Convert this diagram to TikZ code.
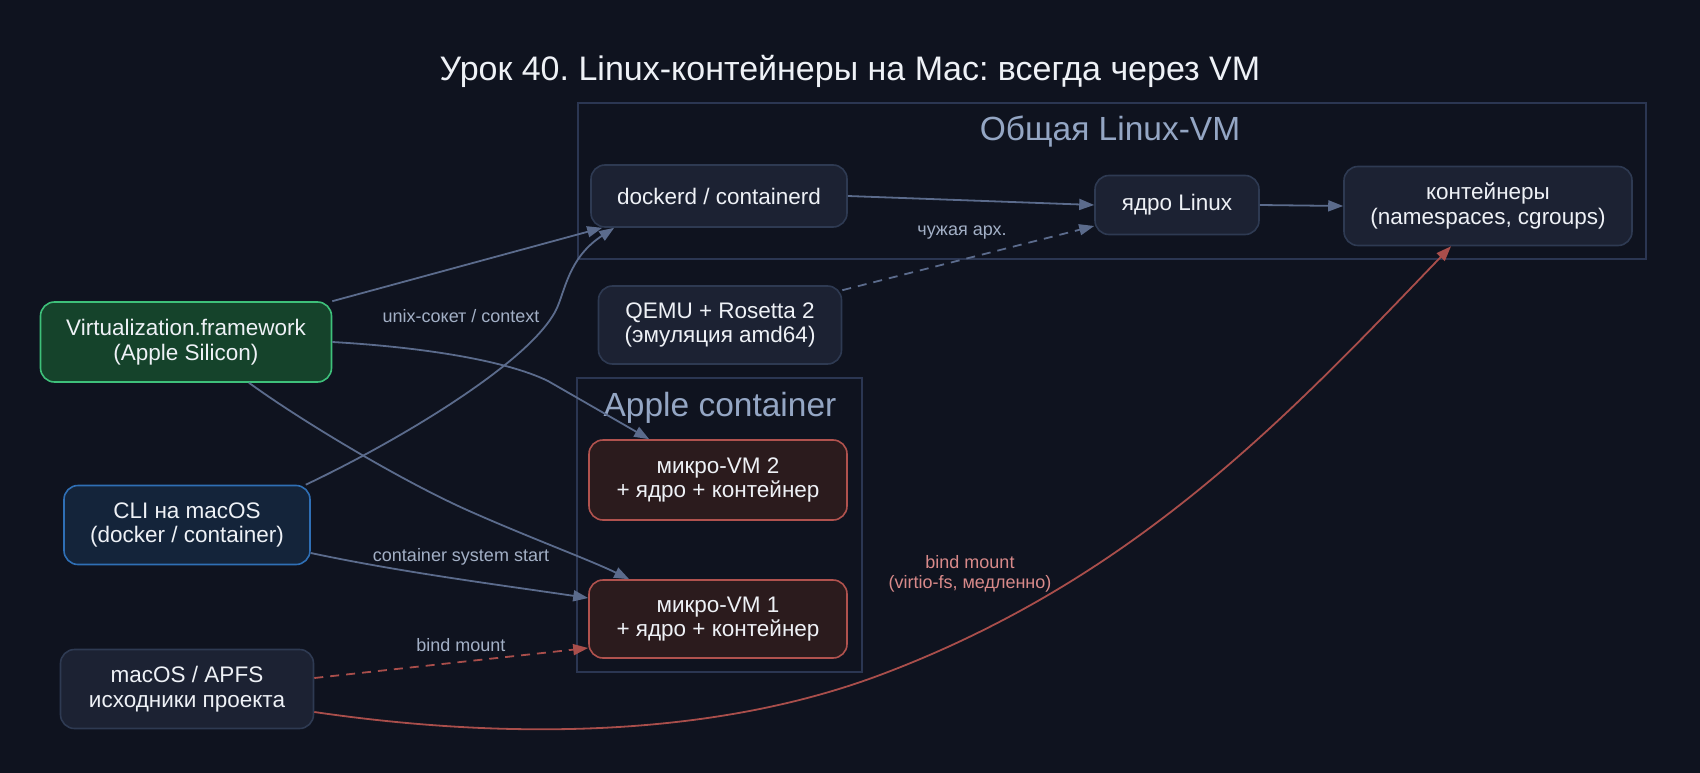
\documentclass[tikz,border=0pt]{standalone}
\usepackage{fontspec}
\setmainfont{Liberation Sans}
\usetikzlibrary{arrows.meta,calc}
\frenchspacing
\definecolor{bg}{HTML}{0F131F}
\definecolor{nfill}{HTML}{1C2233}
\definecolor{nborder}{HTML}{2E3A52}
\definecolor{gfill}{HTML}{15432B}
\definecolor{gborder}{HTML}{3EC07A}
\definecolor{bfill}{HTML}{14243A}
\definecolor{bborder}{HTML}{2F6FB5}
\definecolor{rfill}{HTML}{2B1B1D}
\definecolor{rborder}{HTML}{B0524E}
\definecolor{edgec}{HTML}{5B6B8C}
\definecolor{rede}{HTML}{A94E4B}
\definecolor{txt}{HTML}{EEF1F6}
\definecolor{elab}{HTML}{A3B0C6}
\definecolor{rlab}{HTML}{D98A8A}
\definecolor{cborder}{HTML}{2B3652}
\definecolor{clab}{HTML}{94A6C4}
\tikzset{
  box/.style={draw=nborder, fill=nfill, line width=1.6pt, rounded corners=14pt,
    text=txt, font=\fontsize{22.5}{24.5}\selectfont, align=center, inner sep=0pt},
  gbox/.style={box, draw=gborder, fill=gfill},
  bbox/.style={box, draw=bborder, fill=bfill},
  rbox/.style={box, draw=rborder, fill=rfill},
  cluster/.style={draw=cborder, line width=1.4pt},
  clabel/.style={text=clab, font=\fontsize{33.5}{36}\selectfont},
  conn/.style={draw=edgec, line width=1.8pt, -{Triangle[length=15pt,width=11pt]}},
  rconn/.style={conn, draw=rede},
  elabel/.style={text=elab, font=\fontsize{18}{20}\selectfont, align=center},
  rlabel/.style={elabel, text=rlab},
}
\begin{document}
\begin{tikzpicture}[x=1pt,y=-1pt]
\fill[bg] (0,0) rectangle (1700,773);
\useasboundingbox (0,0) rectangle (1700,773);
\node[text=txt, font=\fontsize{34}{38}\selectfont] (title) at (850,71) {Урок 40. Linux-контейнеры на Mac: всегда через VM};
% clusters
\draw[cluster] (578,103) rectangle (1646,259);
\node[clabel] (lvm) at (1110,132) {Общая Linux-VM};
\draw[cluster] (577,378) rectangle (862,672);
\node[clabel] (apc) at (720,408) {Apple container};
% nodes
\node[box, minimum width=256pt, minimum height=62pt] (dockerd) at (719,196) {dockerd / containerd};
\node[box, minimum width=164pt, minimum height=59pt] (kernel) at (1177,205) {ядро Linux};
\node[box, minimum width=288pt, minimum height=79pt] (cont) at (1488,206) {контейнеры\\(namespaces, cgroups)};
\node[gbox, minimum width=291pt, minimum height=80pt] (virt) at (186,342) {Virtualization.framework\\(Apple Silicon)};
\node[box, minimum width=243pt, minimum height=78pt] (qemu) at (720,325) {QEMU + Rosetta 2\\(эмуляция amd64)};
\node[rbox, minimum width=258pt, minimum height=80pt] (mvm2) at (718,480) {микро-VM 2\\+ ядро + контейнер};
\node[rbox, minimum width=258pt, minimum height=78pt] (mvm1) at (718,619) {микро-VM 1\\+ ядро + контейнер};
\node[bbox, minimum width=246pt, minimum height=79pt] (cli) at (187,525) {CLI на macOS\\(docker / container)};
\node[box, minimum width=253pt, minimum height=79pt] (macos) at (187,689) {macOS / APFS\\исходники проекта};
% edges
\draw[conn] (virt.north east) -- ([xshift=12pt]dockerd.south west);
\draw[conn] ([xshift=-5pt]cli.north east) .. controls (400,440) and (530,362) .. (556,310)
   .. controls (565,292) and (568,258) .. ([xshift=24pt]dockerd.south west);
\node[elabel] (l1) at (461,316) {unix-сокет / context};
\draw[conn] (virt.east) .. controls (420,347) and (505,360) .. (548,381) -- ([xshift=61pt]mvm2.north west);
\draw[conn] ([xshift=63pt]virt.south) .. controls (300,420) and (400,480) .. (467,510)
   .. controls (530,538) and (590,560) .. ([xshift=41pt]mvm1.north west);
\draw[conn] ([yshift=-28pt]cli.east) .. controls (400,572) and (500,585) .. ([yshift=21pt]mvm1.west);
\node[elabel] (l2) at (461,557) {container system start};
\draw[conn] (dockerd.east) -- (kernel.west);
\draw[conn] (kernel.east) -- (cont.west);
\draw[conn, dash pattern=on 9pt off 7pt] ([yshift=-5pt]qemu.north east) -- ([yshift=-21pt]kernel.west);
\node[elabel] (l3) at (962,233) {чужая арх.};
\draw[rconn, dash pattern=on 9pt off 7pt] ([yshift=11pt]macos.east) -- ([yshift=-29pt]mvm1.west);
\node[elabel] (l4) at (461,645) {bind mount};
\draw[rconn] ([yshift=-23pt]macos.east) .. controls (520,742) and (720,735) .. (880,675)
   .. controls (1136,579) and (1289,415) .. ([xshift=-37pt]cont.south);
\node[rlabel] (l5) at (970,574) {bind mount\\(virtio-fs, медленно)};
\end{tikzpicture}
\end{document}
